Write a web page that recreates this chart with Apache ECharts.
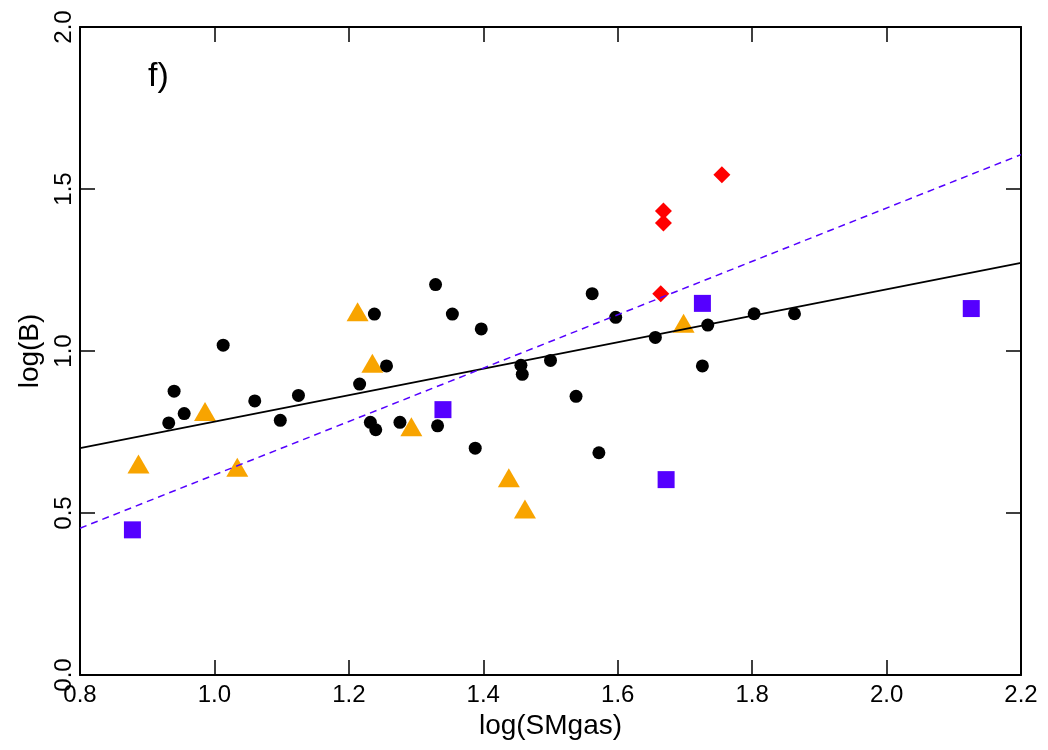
<!DOCTYPE html>
<html>
<head>
<meta charset="utf-8">
<script src="https://cdn.jsdelivr.net/npm/echarts@6/dist/echarts.min.js"></script>
<style>
	html, body { margin: 0; padding: 0; background: #fff; }
	#main { width: 1048px; height: 750px; }
</style>
</head>
<body>
<div id="main"></div>
<script>
// black circles
var circleX = [1.238, 1.013, 1.256, 1.216, 0.940, 0.955, 0.932, 1.060, 1.098, 1.125,
	1.232, 1.240, 1.276, 1.329, 1.354, 1.397, 1.562, 1.597, 1.656, 1.734,
	1.456, 1.458, 1.500, 1.726, 1.538, 1.332, 1.388, 1.572, 1.803, 1.863];
var circleY = [1.114, 1.018, 0.954, 0.898, 0.876, 0.807, 0.778, 0.846, 0.786, 0.863,
	0.780, 0.757, 0.780, 1.205, 1.114, 1.068, 1.177, 1.104, 1.042, 1.080,
	0.956, 0.928, 0.971, 0.954, 0.860, 0.769, 0.700, 0.686, 1.115, 1.115];

// orange triangles
var triX = [1.213, 1.235, 0.986, 0.887, 1.034, 1.293, 1.438, 1.462, 1.698];
var triY = [1.121, 0.962, 0.813, 0.651, 0.641, 0.766, 0.609, 0.512, 1.086];

// purple squares
var sqX = [0.878, 1.340, 1.672, 1.726, 2.126];
var sqY = [0.448, 0.819, 0.603, 1.147, 1.131];

// red diamonds
var diaX = [1.755, 1.668, 1.668, 1.664];
var diaY = [1.544, 1.432, 1.395, 1.177];

// fit lines
var fitX = [0.8, 2.2];
var fitSolid = [0.700, 1.272];
var fitDash = [0.453, 1.606];

var xTicks = [0.8, 1.0, 1.2, 1.4, 1.6, 1.8, 2.0, 2.2];
var yTicks = [0.0, 0.5, 1.0, 1.5, 2.0];

function pairs(xs, ys){
	var out = [];
	for(var i = 0; i < xs.length; i++){
		out.push([xs[i], ys[i]]);
	}
	return out;
}

var font = 'Liberation Sans, Arial, Helvetica, sans-serif';
var myChart = echarts.init(document.getElementById('main'), null, {renderer: 'canvas'});

var tickStyle = {show: true, inside: true, length: 15, lineStyle: {color: '#000', width: 1.5}};
var lineStyle = {show: true, onZero: false, lineStyle: {color: '#000', width: 2}};

var option = {
	animation: false,
	backgroundColor: '#fff',
	grid: {left: 80, right: 27, top: 27, bottom: 75, containLabel: false},
	graphic: [{
		type: 'text',
		left: 148,
		top: 60,
		style: {text: 'f)', fontSize: 34, fontFamily: font, fill: '#000'}
	}],
	xAxis: [{
		type: 'value',
		min: 0.8, max: 2.2, interval: 0.2,
		position: 'bottom',
		name: 'log(SMgas)',
		nameLocation: 'middle',
		nameGap: 34,
		nameTextStyle: {fontSize: 28, fontFamily: font, color: '#000'},
		axisLine: lineStyle,
		axisTick: tickStyle,
		splitLine: {show: false},
		axisLabel: {
			fontSize: 24, fontFamily: font, color: '#000', margin: 8,
			showMinLabel: true, showMaxLabel: true,
			formatter: function(v){ return v.toFixed(1); }
		}
	}, {
		type: 'value',
		min: 0.8, max: 2.2, interval: 0.2,
		position: 'top',
		axisLine: lineStyle,
		axisTick: tickStyle,
		splitLine: {show: false},
		axisLabel: {show: false}
	}],
	yAxis: [{
		type: 'value',
		min: 0, max: 2, interval: 0.5,
		position: 'left',
		name: 'log(B)',
		nameLocation: 'middle',
		nameGap: 36,
		nameTextStyle: {fontSize: 28, fontFamily: font, color: '#000'},
		axisLine: lineStyle,
		axisTick: tickStyle,
		splitLine: {show: false},
		axisLabel: {
			fontSize: 24, fontFamily: font, color: '#000', margin: 4, rotate: 90,
			showMinLabel: true, showMaxLabel: true,
			formatter: function(v){ return v.toFixed(1); }
		}
	}, {
		type: 'value',
		min: 0, max: 2, interval: 0.5,
		position: 'right',
		axisLine: lineStyle,
		axisTick: tickStyle,
		splitLine: {show: false},
		axisLabel: {show: false}
	}],
	series: [
		{
			name: 'triangles', type: 'scatter', symbol: 'triangle', symbolSize: [22, 19],
			itemStyle: {color: '#F8A400', opacity: 1},
			data: pairs(triX, triY), z: 2
		},
		{
			name: 'circles', type: 'scatter', symbol: 'circle', symbolSize: 13,
			itemStyle: {color: '#000', opacity: 1},
			data: pairs(circleX, circleY), z: 3
		},
		{
			name: 'squares', type: 'scatter', symbol: 'rect', symbolSize: 17,
			itemStyle: {color: '#5500FF', opacity: 1},
			data: pairs(sqX, sqY), z: 3
		},
		{
			name: 'diamonds', type: 'scatter', symbol: 'diamond', symbolSize: 17,
			itemStyle: {color: '#FF0000', opacity: 1},
			data: pairs(diaX, diaY), z: 3
		},
		{
			name: 'fit', type: 'line', showSymbol: false, symbol: 'none',
			lineStyle: {color: '#000', width: 1.8},
			data: pairs(fitX, fitSolid), z: 4
		},
		{
			name: 'fit2', type: 'line', showSymbol: false, symbol: 'none',
			lineStyle: {color: '#5500FF', width: 1.5, type: [7, 5]},
			data: pairs(fitX, fitDash), z: 4
		}
	]
};

myChart.setOption(option);
</script>
</body>
</html>
